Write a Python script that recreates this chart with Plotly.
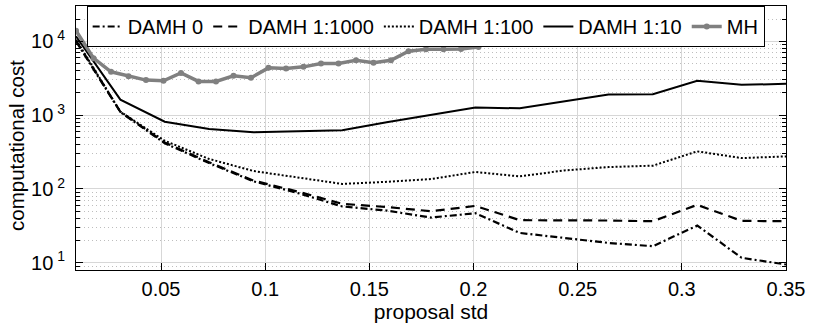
import numpy as np
import plotly.graph_objects as go

# proposal std values
x_damh = [0.0092, 0.0305, 0.0518, 0.0731, 0.0944, 0.1157, 0.1370, 0.1583, 0.1796,
          0.2009, 0.2222, 0.2435, 0.2648, 0.2861, 0.3074, 0.3287, 0.3500]
x_mh = [0.0092, 0.0176, 0.0260, 0.0344, 0.0428, 0.0512, 0.0596, 0.0680, 0.0764,
        0.0848, 0.0932, 0.1016, 0.1100, 0.1184, 0.1268, 0.1352, 0.1436, 0.1520,
        0.1604, 0.1688, 0.1772, 0.1856, 0.1940, 0.2024]

damh0 = [10000, 1100, 416, 224, 127, 88, 58, 51, 41, 47, 25.4, 21.8, 18.6, 16.8, 32, 11.7, 9.5]
damh1000 = [10200, 1110, 425, 230, 130, 92, 63, 57, 50, 59, 37.8, 37.8, 37.4, 36.6, 61, 37, 36.6]
damh100 = [10500, 1113, 450, 255, 175, 142, 117, 125, 136, 170, 148, 178, 198, 207, 323, 262, 276]
damh10 = [11700, 1617, 813, 649, 585, 600, 625, 800, 1000, 1265, 1236, 1540, 1900, 1923, 2910, 2570, 2650]
mh = [13900, 5900, 3860, 3370, 2980, 2910, 3730, 2860, 2860, 3400, 3200, 4360,
      4290, 4500, 5000, 5000, 5540, 5100, 5540, 7330, 7800, 7800, 7870, 8380]

x_ticks = [0.05, 0.1, 0.15, 0.2, 0.25, 0.3, 0.35]
x_ticktext = ["0.05", "0.1", "0.15", "0.2", "0.25", "0.3", "0.35"]
y_ticks = [10, 100, 1000, 10000]
y_ticktext = ["10<sup> 1</sup>", "10<sup> 2</sup>", "10<sup> 3</sup>", "10<sup> 4</sup>"]
y_minor = [m * 10 ** k for k in range(0, 5) for m in range(2, 10)]

FONT = "Liberation Sans, Arial, sans-serif"

fig = go.Figure()
fig.add_trace(go.Scatter(x=x_damh, y=damh0, name="DAMH 0", mode="lines",
                         line=dict(color="black", width=2.2, dash="7px,3px,2px,3px")))
fig.add_trace(go.Scatter(x=x_damh, y=damh1000, name="DAMH 1:1000", mode="lines",
                         line=dict(color="black", width=2.2, dash="9px,6px")))
fig.add_trace(go.Scatter(x=x_damh, y=damh100, name="DAMH 1:100", mode="lines",
                         line=dict(color="black", width=2, dash="2px,2px")))
fig.add_trace(go.Scatter(x=x_damh, y=damh10, name="DAMH 1:10", mode="lines",
                         line=dict(color="black", width=2)))
fig.add_trace(go.Scatter(x=x_mh, y=mh, name="MH", mode="lines+markers",
                         line=dict(color="rgb(128,128,128)", width=3.5),
                         marker=dict(color="rgb(128,128,128)", size=6)))

fig.update_layout(
    width=813, height=331,
    margin=dict(l=76, r=27, t=6, b=61),
    paper_bgcolor="white", plot_bgcolor="white",
    font=dict(family=FONT, color="black", size=20),
    showlegend=True,
    legend=dict(orientation="h", x=0.015, y=1, xanchor="left", yanchor="top",
                bgcolor="white", bordercolor="black", borderwidth=1,
                font=dict(size=20, family=FONT), itemwidth=30,
                tracegroupgap=0),
    annotations=[dict(text="computational cost", textangle=-90, showarrow=False,
                      xref="paper", yref="paper", x=-0.083, y=0.47,
                      xanchor="center", yanchor="middle",
                      font=dict(size=20.5, family=FONT, color="black"))],
)

fig.update_xaxes(
    range=[0.0092, 0.35], tickmode="array", tickvals=x_ticks, ticktext=x_ticktext,
    showline=True, linecolor="black", linewidth=1, mirror="ticks",
    ticks="inside", ticklen=7, tickcolor="black",
    showgrid=True, gridcolor="rgb(215,215,215)", gridwidth=1,
    zeroline=False, ticklabelstandoff=1,
    tickfont=dict(size=20),
    title=dict(text="proposal std", font=dict(size=21), standoff=3),
)
fig.update_yaxes(
    type="log", range=[np.log10(8), np.log10(30000)],
    tickmode="array", tickvals=y_ticks, ticktext=y_ticktext,
    showline=True, linecolor="black", linewidth=1, mirror="ticks",
    ticks="inside", ticklen=7, tickcolor="black",
    showgrid=True, gridcolor="rgb(215,215,215)", gridwidth=1,
    zeroline=False, ticklabelstandoff=6,
    tickfont=dict(size=20),
    minor=dict(tickmode="array", tickvals=y_minor, ticks="inside", ticklen=4,
               tickcolor="black", showgrid=True, gridcolor="rgb(190,190,190)",
               griddash="1px,3px", gridwidth=1),
)

fig.write_html("out.html")
